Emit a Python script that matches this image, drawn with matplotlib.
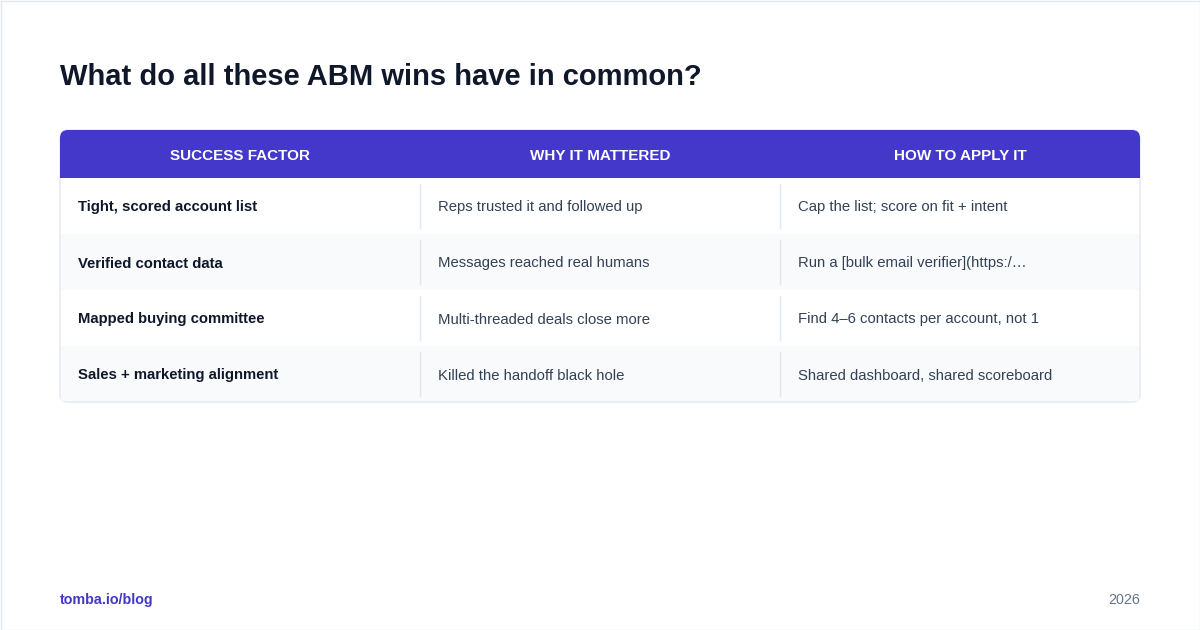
import matplotlib.pyplot as plt
from matplotlib.patches import FancyBboxPatch, Rectangle

plt.rcParams['font.family'] = ['Liberation Sans', 'DejaVu Sans']

title = "What do all these ABM wins have in common?"
headers = ["SUCCESS FACTOR", "WHY IT MATTERED", "HOW TO APPLY IT"]
factors = ["Tight, scored account list", "Verified contact data",
           "Mapped buying committee", "Sales + marketing alignment"]
reasons = ["Reps trusted it and followed up", "Messages reached real humans",
           "Multi-threaded deals close more", "Killed the handoff black hole"]
actions = ["Cap the list; score on fit + intent",
           "Run a [bulk email verifier](https:/\u2026",
           "Find 4\u20136 contacts per account, not 1",
           "Shared dashboard, shared scoreboard"]

W, H = 1200, 630
fig = plt.figure(figsize=(W / 100, H / 100), dpi=100)
ax = fig.add_axes([0, 0, 1, 1])
ax.set_xlim(0, W)
ax.set_ylim(H, 0)
ax.axis('off')

# page border
ax.add_patch(Rectangle((0.5, 0.5), W - 1, H - 1, fill=False, ec='#E2E8F0', lw=1))

ax.text(60, 85, title, fontsize=21, fontweight='bold', color='#0F172A', va='baseline')

x0, x1 = 60, 1140
top, head_h, row_h = 130, 48, 56
col_x = [60, 420, 780, 1140]
accent = '#4338CA'
n = len(factors)
bottom = top + head_h + n * row_h
fs = 10.7

# table outline
ax.add_patch(FancyBboxPatch((x0, top), x1 - x0, bottom - top,
                            boxstyle="round,pad=0,rounding_size=8",
                            fc='white', ec='#E2E8F0', lw=1, zorder=1))
# header
ax.add_patch(FancyBboxPatch((x0, top), x1 - x0, head_h,
                            boxstyle="round,pad=0,rounding_size=8",
                            fc=accent, ec='none', zorder=2))
ax.add_patch(Rectangle((x0, top + head_h - 10), x1 - x0, 10, fc=accent, ec='none', zorder=2))
for i, h in enumerate(headers):
    ax.text((col_x[i] + col_x[i + 1]) / 2, top + head_h / 2 + 6, h, color='white',
            fontsize=11, fontweight='bold', ha='center', va='baseline', zorder=3)

for r in range(n):
    y = top + head_h + r * row_h
    if r % 2 == 1:
        ax.add_patch(Rectangle((x0 + 1, y), x1 - x0 - 2, row_h - (1 if r == n - 1 else 0),
                               fc='#F8FAFC', ec='none', zorder=1.5))
    for c in (1, 2):
        ax.plot([col_x[c], col_x[c]], [y + 6, y + row_h - 6], color='#E2E8F0', lw=1, zorder=3)
    by = y + row_h / 2 + 5.5
    ax.text(78, by, factors[r], fontsize=fs, fontweight='bold', color='#0F172A',
            va='baseline', zorder=3)
    ax.text(438, by, reasons[r], fontsize=fs, color='#334155', va='baseline', zorder=3)
    ax.text(798, by, actions[r], fontsize=fs, color='#334155', va='baseline', zorder=3)

ax.text(60, 604, "tomba.io/blog", fontsize=10.3, fontweight='bold', color=accent, va='baseline')
ax.text(1140, 604, "2026", fontsize=10.3, color='#64748B', va='baseline', ha='right')

fig.savefig('out.png', dpi=100)
